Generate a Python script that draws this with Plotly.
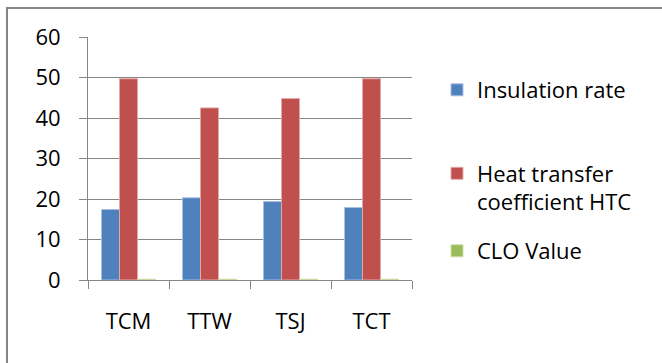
import plotly.graph_objects as go

categories = ["TCM", "TTW", "TSJ", "TCT"]
insulation_rate = [17.4, 20.3, 19.4, 17.9]
htc = [49.7, 42.5, 44.8, 49.7]
clo_value = [0.2, 0.2, 0.2, 0.2]
y_ticks = [0, 10, 20, 30, 40, 50, 60]

W, H = 662, 363
L, R, T, B = 88, 412, 37, 280  # plot area in px

def px_x(p):
    return (p - L) / (R - L)

def px_y(p):
    return (B - p) / (B - T)

FONT = "'Open Sans', Lato, sans-serif"
FS = 22

fig = go.Figure()
fig.add_trace(go.Bar(x=categories, y=insulation_rate, name="Insulation rate",
                     marker=dict(color="#4F81BD", line=dict(color="#A7C0DE", width=1)),
                     legend="legend"))
fig.add_trace(go.Bar(x=categories, y=htc, name="Heat transfer<br>coefficient HTC",
                     marker=dict(color="#C0504D", line=dict(color="#E0A8A6", width=1)),
                     legend="legend2"))
fig.add_trace(go.Bar(x=categories, y=clo_value, name="CLO Value",
                     marker=dict(color="#9BBB59", line=dict(color="#CDDDAC", width=1)),
                     legend="legend3"))

leg_common = dict(font=dict(family=FONT, size=FS, color="#000"), bgcolor="rgba(0,0,0,0)",
                  xanchor="left", valign="top", itemwidth=30)

LEGX = 437
fig.update_layout(
    width=W, height=H,
    margin=dict(l=L, r=W - R, t=T, b=H - B),
    paper_bgcolor="white", plot_bgcolor="white",
    showlegend=True,
    barmode="group", bargap=1/3, bargroupgap=0,
    font=dict(family=FONT, size=FS, color="#000"),
    legend=dict(x=px_x(LEGX), y=px_y(90), yanchor="middle", **leg_common),
    legend2=dict(x=px_x(LEGX), y=px_y(188), yanchor="middle", **leg_common),
    legend3=dict(x=px_x(LEGX), y=px_y(251), yanchor="middle", **leg_common),
    xaxis=dict(range=[-0.5, 3.5], showline=True, linecolor="#868686", linewidth=1,
               ticks="outside", tickson="boundaries", ticklen=8, tickcolor="#868686",
               tickwidth=1, showgrid=False, ticklabelstandoff=22,
               tickfont=dict(family=FONT, size=FS, color="#000")),
    yaxis=dict(range=[0, 60], tickvals=y_ticks, showline=True, linecolor="#868686",
               linewidth=1, ticks="outside", ticklen=8, tickcolor="#868686", tickwidth=1,
               showgrid=True, gridcolor="#868686", gridwidth=1, zeroline=False,
               ticklabelstandoff=14, tickfont=dict(family=FONT, size=FS, color="#000")),
    shapes=[dict(type="rect", xref="paper", yref="paper",
                 x0=px_x(7), x1=px_x(700), y0=px_y(400), y1=px_y(8),
                 line=dict(color="#868686", width=2), layer="below")],
)

fig.write_html("out.html", config={"displayModeBar": False},
               post_script="document.body.style.margin='0px';")
